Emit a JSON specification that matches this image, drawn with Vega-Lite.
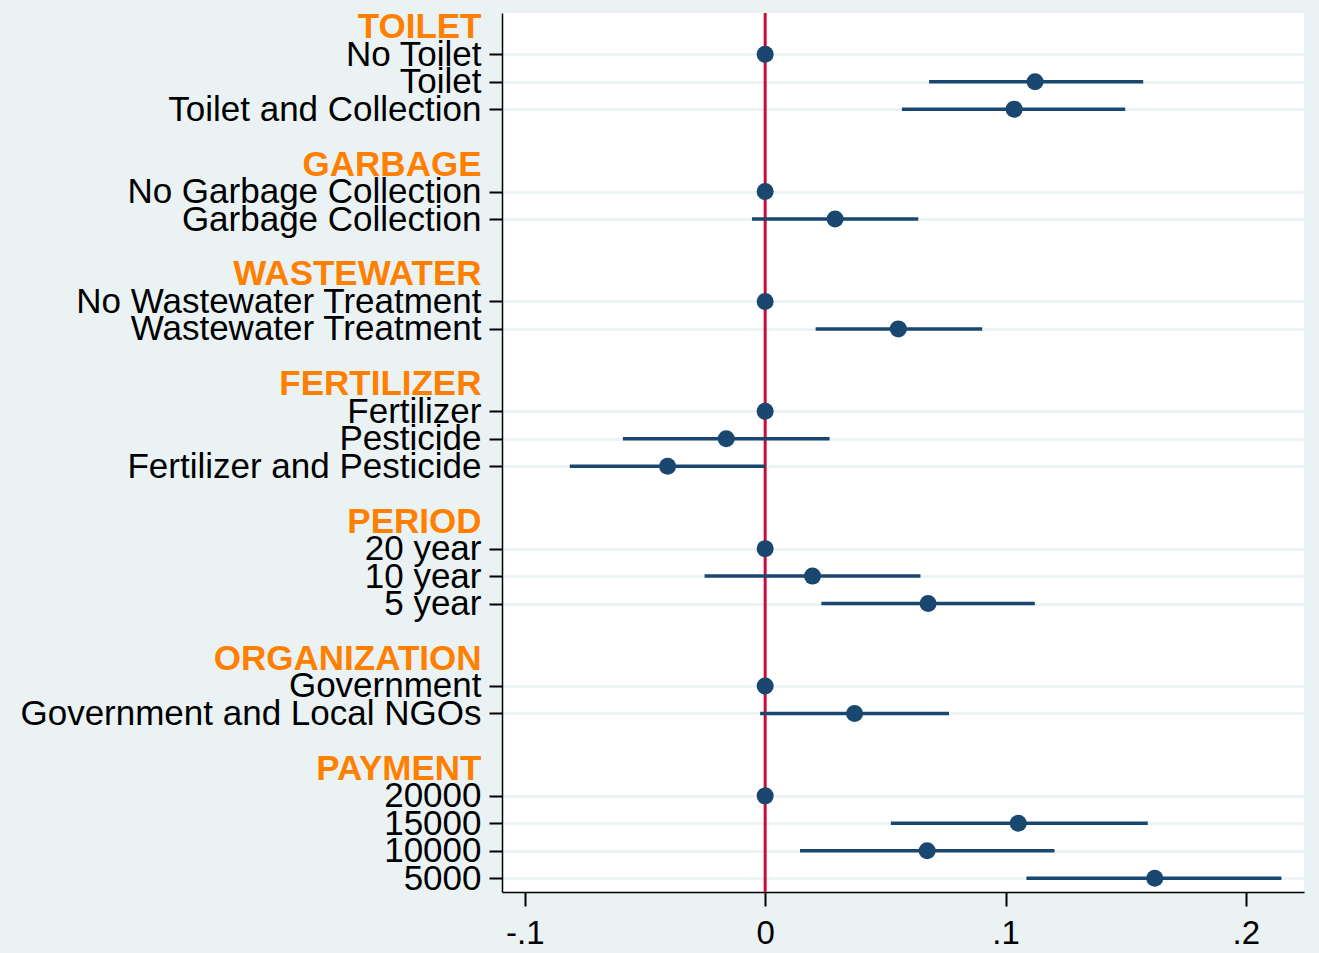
{
  "$schema": "https://vega.github.io/schema/vega-lite/v6.json",
  "width": 802,
  "height": 879,
  "autosize": {"type": "none"},
  "padding": {"left": 502, "top": 13, "right": 15, "bottom": 61},
  "background": "#eaf2f3",
  "config": {"view": {"fill": "white", "stroke": null}, "font": "Liberation Sans"},
  "data": {
    "values": [
      {"label": "No Toilet", "b": 0},
      {"label": "Toilet", "b": 0.1123, "lo": 0.0682, "hi": 0.1573},
      {"label": "Toilet and Collection", "b": 0.1036, "lo": 0.0569, "hi": 0.1498},
      {"label": "No Garbage Collection", "b": 0},
      {"label": "Garbage Collection", "b": 0.0291, "lo": -0.0055, "hi": 0.0637},
      {"label": "No Wastewater Treatment", "b": 0},
      {"label": "Wastewater Treatment", "b": 0.0554, "lo": 0.021, "hi": 0.0903},
      {"label": "Fertilizer", "b": 0},
      {"label": "Pesticide", "b": -0.0162, "lo": -0.0592, "hi": 0.0268},
      {"label": "Fertilizer and Pesticide", "b": -0.0406, "lo": -0.0813, "hi": 0.0001},
      {"label": "20 year", "b": 0},
      {"label": "10 year", "b": 0.0197, "lo": -0.0252, "hi": 0.0646},
      {"label": "5 year", "b": 0.0678, "lo": 0.0234, "hi": 0.1122},
      {"label": "Government", "b": 0},
      {"label": "Government and Local NGOs", "b": 0.0372, "lo": -0.0021, "hi": 0.0765},
      {"label": "20000", "b": 0},
      {"label": "15000", "b": 0.1053, "lo": 0.0523, "hi": 0.1592},
      {"label": "10000", "b": 0.0674, "lo": 0.0145, "hi": 0.1204},
      {"label": "5000", "b": 0.1621, "lo": 0.1087, "hi": 0.2148}
    ]
  },
  "layer": [
    {
      "data": {"values": [{"ref": 0}]},
      "mark": {"type": "rule", "color": "#cc0a36", "strokeWidth": 3},
      "encoding": {
        "x": {"field": "ref", "type": "quantitative", "scale": {"domain": [-0.1095, 0.2242], "nice": false, "zero": false}}
      }
    },
    {
      "transform": [{"filter": "isValid(datum.lo)"}],
      "mark": {"type": "rule", "color": "#1a476f", "strokeWidth": 3.5},
      "encoding": {
        "y": {
          "field": "label",
          "type": "nominal",
          "scale": {
            "type": "point",
            "padding": 0.5,
            "domain": ["TOILET", "No Toilet", "Toilet", "Toilet and Collection", "_1", "GARBAGE", "No Garbage Collection", "Garbage Collection", "_2", "WASTEWATER", "No Wastewater Treatment", "Wastewater Treatment", "_3", "FERTILIZER", "Fertilizer", "Pesticide", "Fertilizer and Pesticide", "_4", "PERIOD", "20 year", "10 year", "5 year", "_5", "ORGANIZATION", "Government", "Government and Local NGOs", "_6", "PAYMENT", "20000", "15000", "10000", "5000"]
          },
          "axis": {
            "title": null,
            "labelFont": "Liberation Sans",
            "labelFontSize": 35,
            "labelLimit": 1000,
            "labelOverlap": false,
            "labelBaseline": "middle",
            "labelPadding": 8,
            "labelExpr": "indexof(datum.value, '_') == 0 ? '' : datum.value",
            "labelColor": {"condition": {"test": "indexof(['TOILET','GARBAGE','WASTEWATER','FERTILIZER','PERIOD','ORGANIZATION','PAYMENT'], datum.value) >= 0", "value": "#ff8000"}, "value": "black"},
            "labelFontWeight": {"condition": {"test": "indexof(['TOILET','GARBAGE','WASTEWATER','FERTILIZER','PERIOD','ORGANIZATION','PAYMENT'], datum.value) >= 0", "value": "bold"}, "value": "normal"},
            "tickColor": {"condition": {"test": "indexof(['TOILET','GARBAGE','WASTEWATER','FERTILIZER','PERIOD','ORGANIZATION','PAYMENT'], datum.value) >= 0 || indexof(datum.value, '_') == 0", "value": "transparent"}, "value": "black"},
            "tickSize": 13,
            "tickWidth": 2,
            "grid": true,
            "gridColor": {"condition": {"test": "indexof(['TOILET','GARBAGE','WASTEWATER','FERTILIZER','PERIOD','ORGANIZATION','PAYMENT'], datum.value) >= 0 || indexof(datum.value, '_') == 0", "value": "transparent"}, "value": "#eaf2f3"},
            "gridWidth": 2.5,
            "domainColor": "black",
            "domainWidth": 1.5
          }
        },
        "x": {
          "field": "lo",
          "type": "quantitative",
          "scale": {"domain": [-0.1095, 0.2242], "nice": false, "zero": false},
          "axis": {
            "title": null,
            "values": [-0.1, 0, 0.1, 0.2],
            "labelExpr": "(datum.value < 0 ? '-' : '') + (datum.value == 0 ? '0' : replace(format(abs(datum.value), '.1f'), '0.', '.'))",
            "labelFont": "Liberation Sans",
            "labelFontSize": 33,
            "labelColor": "black",
            "labelFlush": false,
            "labelPadding": 11,
            "tickSize": 14,
            "tickWidth": 2,
            "tickColor": "black",
            "grid": false,
            "domainColor": "black",
            "domainWidth": 1.5
          }
        },
        "x2": {"field": "hi"}
      }
    },
    {
      "mark": {"type": "point", "filled": true, "shape": "circle", "size": 290, "color": "#1a476f", "opacity": 1},
      "encoding": {
        "y": {"field": "label", "type": "nominal"},
        "x": {"field": "b", "type": "quantitative"}
      }
    }
  ]
}
